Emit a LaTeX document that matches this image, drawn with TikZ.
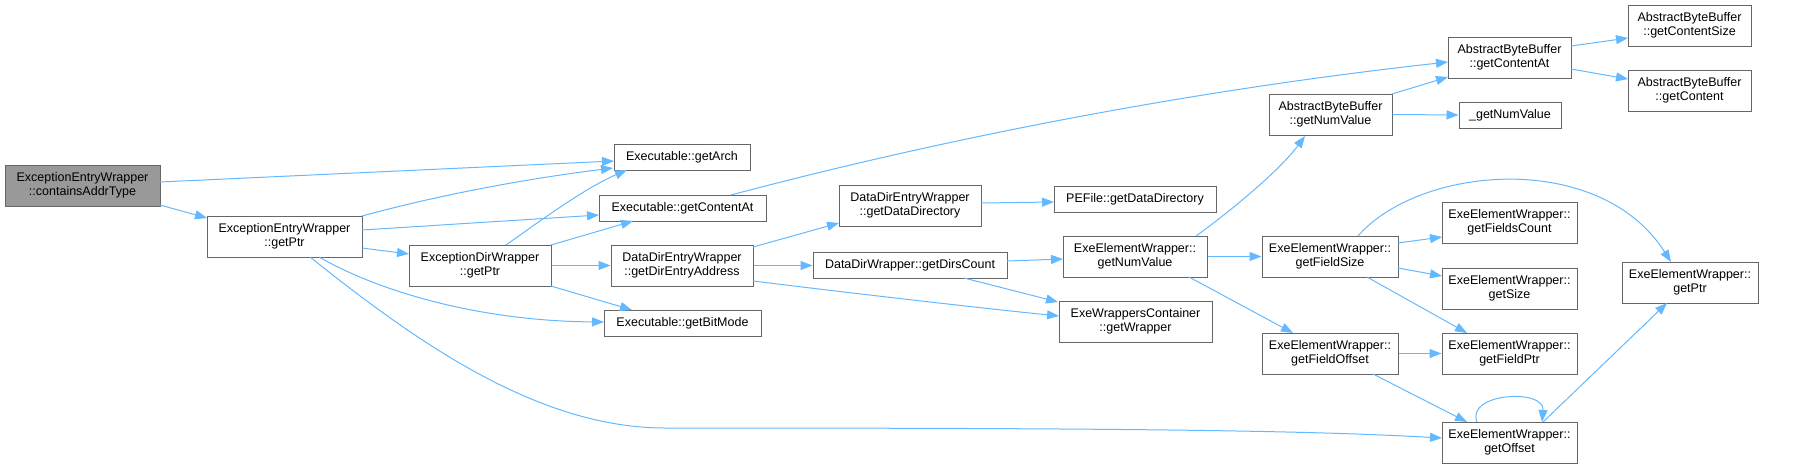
\documentclass[tikz,border=0pt]{standalone}
\usepackage{fontspec}
\setmainfont{Liberation Sans}
\usetikzlibrary{arrows.meta,calc}
\definecolor{edgeblue}{HTML}{63B8FF}
\definecolor{bordergray}{HTML}{666666}
\definecolor{rootgray}{HTML}{999999}
\tikzset{
  box/.style={draw=bordergray, line width=1pt, fill=white, inner sep=0pt, align=center,
    font=\fontsize{12.5}{14.3}\selectfont},
  rootbox/.style={box, fill=rootgray},
  edge/.style={draw=edgeblue, line width=1pt, -{Triangle[length=12pt,width=9pt]}}
}
\begin{document}
\begin{tikzpicture}[x=1pt,y=-1pt]
\useasboundingbox (0,0) rectangle (1796,469);
% nodes
\node[rootbox, minimum width=155pt, minimum height=41pt] (root) at (82.5,185.5) {ExceptionEntryWrapper\\::containsAddrType};
\node[box, minimum width=155pt, minimum height=41pt] (eewPtr) at (284.5,236.5) {ExceptionEntryWrapper\\::getPtr};
\node[box, minimum width=136pt, minimum height=26pt] (getArch) at (682,157) {Executable::getArch};
\node[box, minimum width=167pt, minimum height=26pt] (exeContentAt) at (682.5,208) {Executable::getContentAt};
\node[box, minimum width=142pt, minimum height=41pt] (edwPtr) at (480,265.5) {ExceptionDirWrapper\\::getPtr};
\node[box, minimum width=142pt, minimum height=41pt] (dirEntryAddr) at (682,265.5) {DataDirEntryWrapper\\::getDirEntryAddress};
\node[box, minimum width=157pt, minimum height=26pt] (bitMode) at (682.5,323) {Executable::getBitMode};
\node[box, minimum width=142pt, minimum height=41pt] (dataDir) at (910,205.5) {DataDirEntryWrapper\\::getDataDirectory};
\node[box, minimum width=194pt, minimum height=26pt] (dirsCount) at (910,265.5) {DataDirWrapper::getDirsCount};
\node[box, minimum width=162pt, minimum height=26pt] (peDataDir) at (1135,199) {PEFile::getDataDirectory};
\node[box, minimum width=144pt, minimum height=41pt] (eewNumValue) at (1135,256.5) {ExeElementWrapper::\\getNumValue};
\node[box, minimum width=153pt, minimum height=41pt] (getWrapper) at (1135.5,321.5) {ExeWrappersContainer\\::getWrapper};
\node[box, minimum width=123pt, minimum height=41pt] (abbNumValue) at (1330.5,114.5) {AbstractByteBuffer\\::getNumValue};
\node[box, minimum width=136pt, minimum height=41pt] (fieldSize) at (1330,256.5) {ExeElementWrapper::\\getFieldSize};
\node[box, minimum width=136pt, minimum height=41pt] (fieldOffset) at (1330,353.5) {ExeElementWrapper::\\getFieldOffset};
\node[box, minimum width=123pt, minimum height=41pt] (abbContentAt) at (1509.5,57.5) {AbstractByteBuffer\\::getContentAt};
\node[box, minimum width=102pt, minimum height=26pt] (numValueU) at (1510,115) {\_getNumValue};
\node[box, minimum width=135pt, minimum height=41pt] (fieldsCount) at (1509.5,222.5) {ExeElementWrapper::\\getFieldsCount};
\node[box, minimum width=135pt, minimum height=41pt] (getSize) at (1509.5,288.5) {ExeElementWrapper::\\getSize};
\node[box, minimum width=135pt, minimum height=41pt] (fieldPtr) at (1509.5,353.5) {ExeElementWrapper::\\getFieldPtr};
\node[box, minimum width=135pt, minimum height=41pt] (getOffset) at (1509.5,442.5) {ExeElementWrapper::\\getOffset};
\node[box, minimum width=123pt, minimum height=41pt] (contentSize) at (1689.5,25.5) {AbstractByteBuffer\\::getContentSize};
\node[box, minimum width=123pt, minimum height=41pt] (content) at (1689.5,90.5) {AbstractByteBuffer\\::getContent};
\node[box, minimum width=136pt, minimum height=41pt] (eePtr) at (1690,282.5) {ExeElementWrapper::\\getPtr};
% edges
\draw[edge] ($(root)+(77.5,-3.5)$) -- ($(getArch)+(-68,4)$);
\draw[edge] ($(root)+(77.5,19.5)$) -- ($(eewPtr)+(-77.5,-18.5)$);
\draw[edge] ($(eewPtr)+(77.5,-20.5)$) .. controls (450,192) and (540,177) .. ($(getArch)+(-69,11)$);
\draw[edge] ($(eewPtr)+(77.5,-6.5)$) -- ($(exeContentAt)+(-83.5,7)$);
\draw[edge] ($(eewPtr)+(77.5,11.5)$) -- ($(edwPtr)+(-71,-11.5)$);
\draw[edge] ($(eewPtr)+(34.5,20.5)$) .. controls (380,292) and (480,321) .. ($(bitMode)+(-78.5,-1)$);
\draw[edge] ($(eewPtr)+(25.5,20.5)$) .. controls (420,345) and (540,428) .. (665,428)
  .. controls (1100,428) and (1300,430) .. ($(getOffset)+(-67.5,-4.5)$);
\draw[edge] ($(edwPtr)+(26,-20.5)$) .. controls (540,221) and (585,188) .. ($(getArch)+(-55,13)$);
\draw[edge] ($(edwPtr)+(71,-20.5)$) -- ($(exeContentAt)+(-49.5,13)$);
\draw[edge] (edwPtr.east) -- (dirEntryAddr.west);
\draw[edge] ($(edwPtr)+(71,20.5)$) -- ($(bitMode)+(-50.5,-13)$);
\draw[edge] ($(exeContentAt)+(48.5,-13)$) .. controls (900,150) and (1150,95) .. ($(abbContentAt)+(-61.5,4.5)$);
\draw[edge] ($(dirEntryAddr)+(71,-18.5)$) -- ($(dataDir)+(-71,17.5)$);
\draw[edge] (dirEntryAddr.east) -- (dirsCount.west);
\draw[edge] ($(dirEntryAddr)+(71,15.5)$) .. controls (850,293) and (980,308) .. ($(getWrapper)+(-76.5,-5.5)$);
\draw[edge] ($(dataDir)+(71,-2.5)$) -- ($(peDataDir)+(-81,3)$);
\draw[edge] ($(dirsCount)+(97,-4.5)$) -- ($(eewNumValue)+(-72,2.5)$);
\draw[edge] ($(dirsCount)+(54,12.5)$) -- ($(getWrapper)+(-77.5,-19.5)$);
\draw[edge] ($(eewNumValue)+(61,-20.5)$) .. controls (1232,210) and (1280,170) .. ($(abbNumValue)+(-25.5,21.5)$);
\draw[edge] (eewNumValue.east) -- (fieldSize.west);
\draw[edge] ($(eewNumValue)+(54,20.5)$) -- ($(fieldOffset)+(-37,-20.5)$);
\draw[edge] ($(abbNumValue)+(61.5,-20.5)$) -- ($(abbContentAt)+(-61.5,19.5)$);
\draw[edge] (abbNumValue.east) -- (numValueU.west);
\draw[edge] ($(abbContentAt)+(61.5,-11.5)$) -- ($(contentSize)+(-61.5,12.5)$);
\draw[edge] ($(abbContentAt)+(61.5,11.5)$) -- ($(content)+(-61.5,-11.5)$);
\draw[edge] ($(fieldSize)+(68,-13.5)$) -- ($(fieldsCount)+(-67.5,14.5)$);
\draw[edge] ($(fieldSize)+(68,11.5)$) -- ($(getSize)+(-67.5,-12.5)$);
\draw[edge] ($(fieldSize)+(37,20.5)$) -- ($(fieldPtr)+(-42.5,-20.5)$);
\draw[edge] ($(fieldSize)+(28,-20.5)$) .. controls (1420,165) and (1600,150) .. ($(eePtr)+(-19,-20.5)$);
\draw[edge] (fieldOffset.east) -- (fieldPtr.west);
\draw[edge] ($(fieldOffset)+(43,20.5)$) -- ($(getOffset)+(-42.5,-20.5)$);
\draw[edge] ($(getOffset)+(-32.5,-20.5)$) .. controls (1465,393) and (1545,388) .. ($(getOffset)+(32.5,-20.5)$);
\draw[edge] ($(getOffset)+(33.5,-20.5)$) -- ($(eePtr)+(-23,20.5)$);
\end{tikzpicture}
\end{document}
